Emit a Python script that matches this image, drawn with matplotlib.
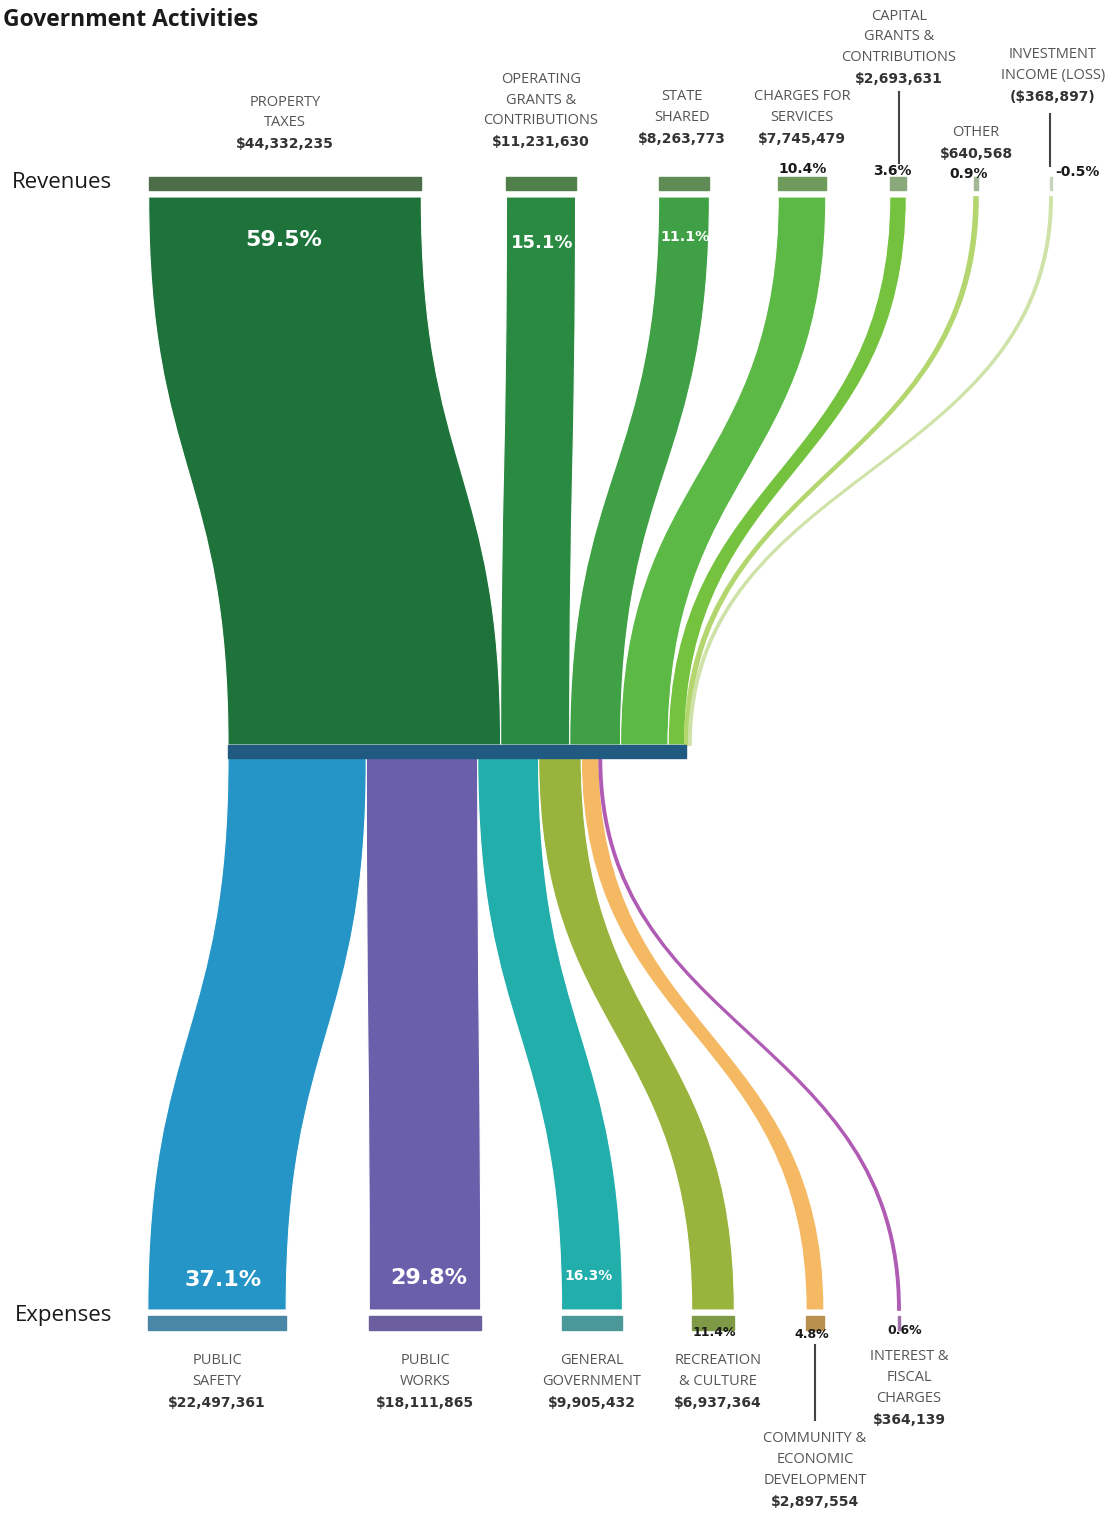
import matplotlib.pyplot as plt
from matplotlib.path import Path
from matplotlib.patches import PathPatch, Rectangle

plt.rcParams['font.family'] = ['Open Sans', 'DejaVu Sans']
NUM_FONT = ['DejaVu Sans']

# --- data -------------------------------------------------------------
revenue_names = ['PROPERTY\nTAXES', 'OPERATING\nGRANTS &\nCONTRIBUTIONS',
                 'STATE\nSHARED', 'CHARGES FOR\nSERVICES',
                 'CAPITAL\nGRANTS &\nCONTRIBUTIONS', 'OTHER',
                 'INVESTMENT\nINCOME (LOSS)']
revenue_values = [44332235, 11231630, 8263773, 7745479, 2693631, 640568, -368897]

expense_names = ['PUBLIC\nSAFETY', 'PUBLIC\nWORKS', 'GENERAL\nGOVERNMENT',
                 'RECREATION\n& CULTURE', 'COMMUNITY &\nECONOMIC\nDEVELOPMENT',
                 'INTEREST &\nFISCAL\nCHARGES']
expense_values = [22497361, 18111865, 9905432, 6937364, 2897554, 364139]

# --- layout / style (pixel coordinates, y grows downwards) ------------
W, H = 1113, 1514
SCALE = 6.15 / 1e6           # px per dollar
MID_X = 228
REV_TOP, REV_BOT = 197, 745
MID_TOP, MID_BOT = 745, 758
EXP_TOP, EXP_BOT = 758, 1310

rev_centers = [285, 541, 684, 802, 898, 976, 1051]
rev_colors = ['#1e733b', '#2a8a42', '#3fa046', '#5cb946', '#74c23e', '#b3d66e', '#cfe3a8']
rev_head = ['#4b6e46', '#50804a', '#5f8c55', '#6e9a5c', '#8aa97a', '#a4b896', '#c8d4bc']
rev_label_x = [285, 541, 682, 802, 899, 976, 1053]
rev_value_y = [143, 141, 138, 138, 78, 153, 96]
rev_pct_pos = [(284, 240), (542, 243), (685, 237), (803, 169), (892, 171), (969, 174), (1077, 172)]
rev_pct_size = [16, 13, 10.3, 10, 10, 10, 10]
rev_pct_inside = [True, True, True, False, False, False, False]

exp_centers = [217, 425, 592, 713, 815, 899]
exp_colors = ['#2495c6', '#6a5fab', '#22aeab', '#98b43c', '#f5b963', '#b05cb5']
exp_head = ['#4a87a6', '#6b5fa0', '#4a9898', '#7f9a47', '#b8914f', '#a070a8']
exp_label_x = [217, 425, 592, 718, 815, 909]
exp_first_y = [1361, 1361, 1361, 1361, 1439, 1357]
exp_pct_pos = [(223, 1280), (429, 1278), (589, 1276), (714, 1333), (812, 1335), (905, 1331)]
exp_pct_size = [16, 16, 10, 9, 9, 9]
exp_pct_inside = [True, True, True, False, False, False]

LINE = 20.5


def ribbon(ax, xl0, xr0, y0, xl1, xr1, y1, color):
    ym = (y0 + y1) / 2
    verts = [(xl0, y0), (xl0, ym), (xl1, ym), (xl1, y1),
             (xr1, y1), (xr1, ym), (xr0, ym), (xr0, y0), (xl0, y0)]
    codes = [Path.MOVETO, Path.CURVE4, Path.CURVE4, Path.CURVE4,
             Path.LINETO, Path.CURVE4, Path.CURVE4, Path.CURVE4, Path.CLOSEPOLY]
    thin = (xr0 - xl0) < 4
    ax.add_patch(PathPatch(Path(verts, codes), facecolor=color,
                           edgecolor=color if thin else 'white',
                           lw=1.2 if thin else 0.8, zorder=2))


def fmt_money(v):
    return f'(${-v:,})' if v < 0 else f'${v:,}'


def label_block(ax, x, first_y, name, value):
    lines = name.split('\n')
    for i, ln in enumerate(lines):
        ax.text(x, first_y + i * LINE, ln, ha='center', va='center',
                fontsize=10.5, color='#555555')
    ax.text(x, first_y + len(lines) * LINE + 1, fmt_money(value), ha='center',
            va='center', fontsize=10, fontweight='bold', color='#333333',
            family=NUM_FONT)


def main():
    fig = plt.figure(figsize=(W / 100, H / 100), dpi=100)
    ax = fig.add_axes([0, 0, 1, 1])
    ax.set_xlim(0, W)
    ax.set_ylim(H, 0)
    ax.axis('off')

    rev_total = sum(revenue_values)
    exp_total = sum(expense_values)

    # revenue ribbons
    cursor = MID_X
    for i, v in enumerate(revenue_values):
        w = abs(v) * SCALE
        xl0 = rev_centers[i] - w / 2
        ribbon(ax, xl0, xl0 + w, REV_TOP, cursor, cursor + w, REV_BOT, rev_colors[i])
        ax.add_patch(Rectangle((xl0, 177), max(w, 2), 13, color=rev_head[i], zorder=2))
        if v > 0:
            cursor += w

        n_lines = revenue_names[i].count('\n') + 1
        label_block(ax, rev_label_x[i], rev_value_y[i] - n_lines * LINE,
                    revenue_names[i], v)
        pct = f'{v / rev_total * 100:.1f}%'
        px, py = rev_pct_pos[i]
        ax.text(px, py, pct, ha='center', va='center', fontsize=rev_pct_size[i],
                fontweight='bold', family=NUM_FONT,
                color='white' if rev_pct_inside[i] else '#1a1a1a', zorder=3)

    # middle bar
    ax.add_patch(Rectangle((MID_X, MID_TOP), rev_total * SCALE, MID_BOT - MID_TOP,
                           color='#215a80', zorder=3))

    # expense ribbons
    cursor = MID_X
    for i, v in enumerate(expense_values):
        w = v * SCALE
        xl1 = exp_centers[i] - w / 2
        ribbon(ax, cursor, cursor + w, EXP_TOP, xl1, xl1 + w, EXP_BOT, exp_colors[i])
        ax.add_patch(Rectangle((xl1, 1316), max(w, 2), 14, color=exp_head[i], zorder=2))
        cursor += w

        label_block(ax, exp_label_x[i], exp_first_y[i], expense_names[i], v)
        pct = f'{v / exp_total * 100:.1f}%'
        px, py = exp_pct_pos[i]
        ax.text(px, py, pct, ha='center', va='center', fontsize=exp_pct_size[i],
                fontweight='bold', family=NUM_FONT,
                color='white' if exp_pct_inside[i] else '#1a1a1a', zorder=3)

    # leader lines
    ax.plot([899, 899], [92, 163], color='#444444', lw=1.5)
    ax.plot([1050, 1050], [114, 166], color='#444444', lw=1.5)
    ax.plot([815, 815], [1345, 1420], color='#444444', lw=1.5)

    ax.text(3, 20, 'Government Activities', ha='left', va='center',
            fontsize=16.5, fontweight='bold', color='#1a1a1a')
    ax.text(12, 183, 'Revenues', ha='left', va='center', fontsize=16, color='#1a1a1a')
    ax.text(15, 1316, 'Expenses', ha='left', va='center', fontsize=16, color='#1a1a1a')

    fig.savefig('out.png', dpi=100)


if __name__ == '__main__':
    main()
